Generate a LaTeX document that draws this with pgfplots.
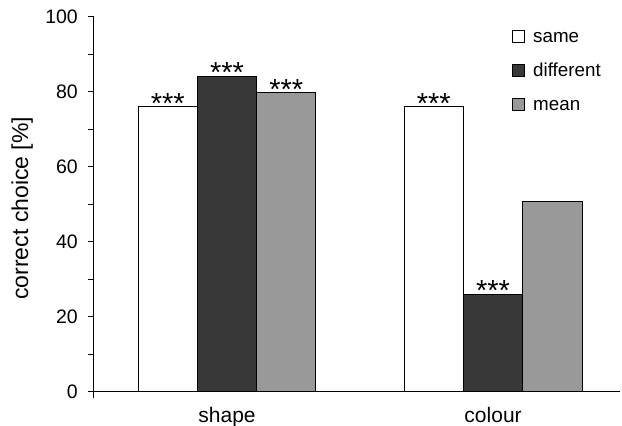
\documentclass[border=0pt]{standalone}
\usepackage{pgfplots}
\pgfplotsset{compat=1.18}
\usepackage{fontspec}
\setmainfont{Liberation Sans}
\definecolor{darkbar}{gray}{0.22}
\definecolor{midbar}{gray}{0.60}
\newcommand\ytfont{\fontsize{19.5bp}{22bp}\selectfont}
\newcommand\xtfont{\fontsize{21bp}{24bp}\selectfont}
\newcommand\ylfont{\fontsize{23bp}{26bp}\selectfont}
\newcommand\legfont{\fontsize{18.8bp}{22bp}\selectfont}
\newcommand\starfont{\fontsize{29bp}{31bp}\selectfont}
\pgfplotsset{mylegend/.style={legend image code/.code={\draw[##1,line width=1bp] (0bp,-4bp) rectangle (12bp,8bp);}}}
\begin{document}
\begin{tikzpicture}
\begin{axis}[
  scale only axis, width=526bp, height=375bp,
  xmin=-0.5, xmax=1.477, ymin=0, ymax=100,
  axis lines=left, axis line style={-, line width=1bp, black},
  clip=false,
  ybar=0pt, bar width=59.3bp,
  xtick={0,1}, xticklabels={shape,colour},
  x tick style={draw=none},
  ytick={0,20,...,100}, minor y tick num=1,
  tick align=outside, major tick length=6bp, minor tick length=6bp,
  y tick style={line width=1bp, black},
  /pgf/number format/assume math mode=true,
  y tick label style={font=\ytfont, inner sep=0pt, xshift=-10bp},
  x tick label style={font=\xtfont, anchor=north, inner sep=0pt, yshift=-9bp},
  ylabel={correct choice [\%]},
  ylabel style={font=\ylfont, at={(axis description cs:-0.116,0.49)}, anchor=south, inner sep=0pt},
  nodes near coords, point meta=explicit symbolic,
  every node near coord/.append style={font=\starfont, anchor=base, yshift=-6.4bp, inner sep=0pt},
  legend style={at={(0.7947,0.967)}, anchor=north west, draw=none, fill=none, inner sep=0pt,
    row sep=17bp, column sep=8bp, font=\legfont,
    nodes={inner sep=0pt, text height=13bp, text depth=4bp}},
  legend cell align=left,
]
\addplot[draw=black, line width=1bp, fill=white, mylegend] coordinates {(0,76) [***] (1,76) [***]};
\addplot[draw=black, line width=1bp, fill=darkbar, mylegend] coordinates {(0,84.2) [***] (1,26) [***]};
\addplot[draw=black, line width=1bp, fill=midbar, mylegend] coordinates {(0,79.8) [***] (1,50.9) [{}]};
\legend{same,different,mean}
\draw[line width=1bp] (axis cs:-0.5,0) -- ([yshift=-6bp]axis cs:-0.5,0);
\end{axis}
\pgfresetboundingbox
\path (-94bp,-34bp) rectangle (528bp,392bp);
\end{tikzpicture}
\end{document}
